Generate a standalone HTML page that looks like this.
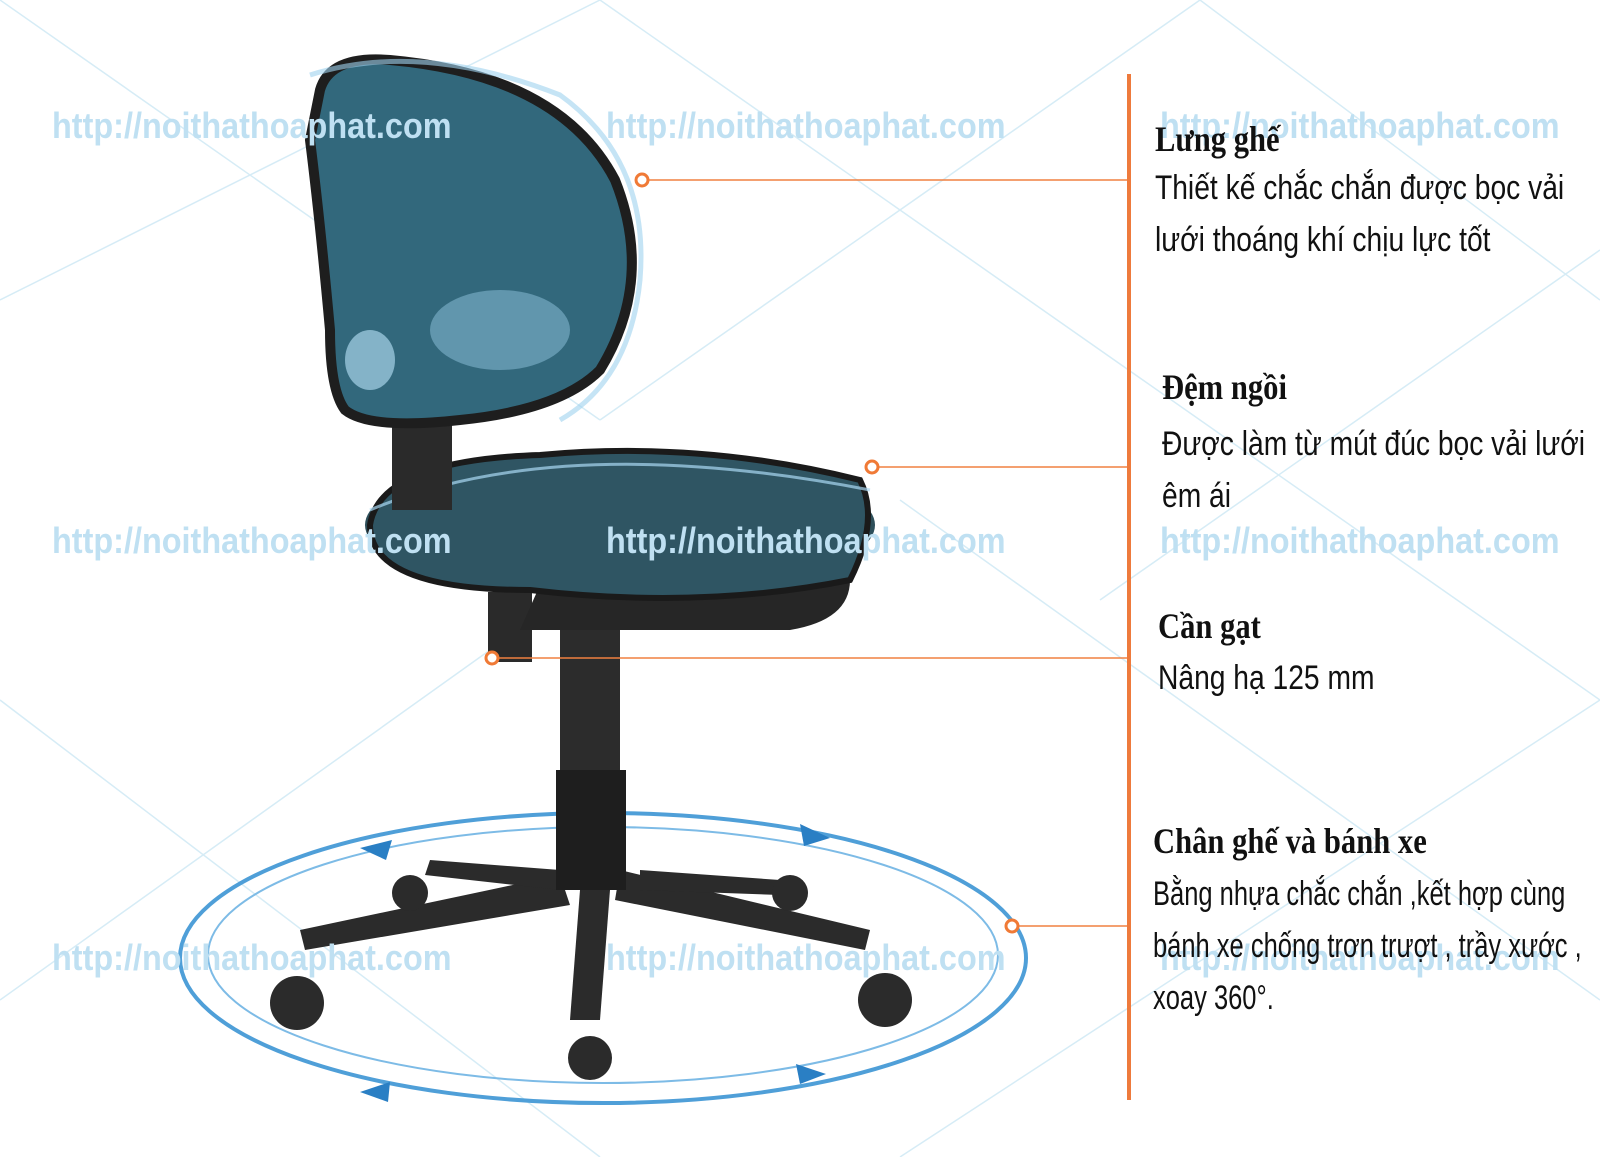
<!DOCTYPE html>
<html><head><meta charset="utf-8"><style>
html,body{margin:0;padding:0;background:#fff}
#c{position:relative;width:1600px;height:1157px;overflow:hidden;background:#fff}
.wm{position:absolute;font-family:"Liberation Sans",sans-serif;font-weight:bold;font-size:36px;color:#bfe0f2;transform:scaleX(0.9);transform-origin:left top;white-space:nowrap}
.t{position:absolute;font-family:"Liberation Serif",serif;font-weight:bold;font-size:36px;color:#111;transform:scaleX(0.85);transform-origin:left top;white-space:nowrap}
.b{position:absolute;font-family:"Liberation Sans",sans-serif;font-size:34px;color:#111;transform:scaleX(0.83);transform-origin:left top;white-space:nowrap;line-height:52px}
</style></head><body><div id="c">
<svg width="1600" height="1157" style="position:absolute;left:0;top:0">
<g stroke="#d6ecf6" stroke-width="1.5" fill="none">
<line x1="0" y1="0" x2="600" y2="420"/><line x1="0" y1="300" x2="600" y2="0"/>
<line x1="600" y1="420" x2="1200" y2="0"/><line x1="600" y1="0" x2="1600" y2="700"/>
<line x1="0" y1="700" x2="600" y2="1157"/><line x1="0" y1="1000" x2="700" y2="500"/>
<line x1="900" y1="1157" x2="1600" y2="700"/><line x1="900" y1="500" x2="1600" y2="1000"/>
<line x1="1200" y1="0" x2="1600" y2="300"/><line x1="1100" y1="600" x2="1600" y2="250"/>
</g>
<ellipse cx="603" cy="958" rx="423" ry="145" fill="none" stroke="#4f9fd8" stroke-width="4"/>
<ellipse cx="603" cy="955" rx="395" ry="128" fill="none" stroke="#7dbbe6" stroke-width="2"/>
<polygon points="360,848 392,840 386,860" fill="#2a7fc4"/>
<polygon points="800,824 830,838 804,846" fill="#2a7fc4"/>
<polygon points="360,1092 390,1082 388,1102" fill="#2a7fc4"/>
<polygon points="796,1064 826,1074 800,1084" fill="#2a7fc4"/>
<g fill="#2b2b2b">
<polygon points="560,875 300,930 305,950 570,905"/>
<polygon points="620,870 870,930 865,950 615,900"/>
<polygon points="580,890 570,1020 600,1020 610,890"/>
<polygon points="560,870 430,860 425,875 560,890"/>
<polygon points="640,870 780,880 780,895 640,890"/>
<circle cx="297" cy="1003" r="27"/><circle cx="885" cy="1000" r="27"/><circle cx="590" cy="1058" r="22"/>
<circle cx="410" cy="893" r="18"/><circle cx="790" cy="893" r="18"/>
</g>
<rect x="560" y="630" width="60" height="150" fill="#2c2c2c"/>
<rect x="556" y="770" width="70" height="120" fill="#1e1e1e"/>
<rect x="488" y="592" width="44" height="70" fill="#2a2a2a"/>
<path d="M540,585 L850,580 Q850,620 790,630 L520,630 Z" fill="#262626"/>
<ellipse cx="620" cy="525" rx="255" ry="72" fill="#2e4f5a"/>
<path d="M370,525 Q380,460 540,455 Q700,440 860,480 Q880,520 850,580 Q700,610 530,590 Q370,590 370,525Z" fill="#2f5563" stroke="#1a1a1a" stroke-width="6"/>
<path d="M370,510 Q560,430 870,490" fill="none" stroke="#a9d8f3" stroke-width="3" opacity=".7"/>
<rect x="392" y="420" width="60" height="90" fill="#2a2a2a"/>
<path d="M320,90 Q330,55 390,60 Q560,75 615,180 Q655,280 600,370 Q560,410 460,420 Q370,430 345,410 Q330,390 330,330 Q320,220 310,140 Z" fill="#32687c" stroke="#1e1e1e" stroke-width="10"/>
<path d="M310,75 Q420,40 560,95 Q650,160 640,280 Q630,380 560,420" fill="none" stroke="#9fd2ee" stroke-width="5" opacity=".6"/>
<ellipse cx="500" cy="330" rx="70" ry="40" fill="#8fc4dd" opacity=".5"/>
<ellipse cx="370" cy="360" rx="25" ry="30" fill="#a6d3e8" opacity=".7"/>
<g stroke="#f08040" stroke-width="1.5">
<line x1="646" y1="180" x2="1128" y2="180"/><line x1="876" y1="467" x2="1128" y2="467"/>
<line x1="497" y1="658" x2="1128" y2="658"/><line x1="1016" y1="926" x2="1128" y2="926"/>
</g>
<line x1="1129" y1="74" x2="1129" y2="1100" stroke="#ee7a3c" stroke-width="4"/>
<g fill="#fff" stroke="#f07a36" stroke-width="3">
<circle cx="642" cy="180" r="6"/><circle cx="872" cy="467" r="6"/><circle cx="492" cy="658" r="6"/><circle cx="1012" cy="926" r="6"/>
</g>
</svg>
<div class="wm" style="left:52px;top:105px">http://noithathoaphat.com</div>
<div class="wm" style="left:606px;top:105px">http://noithathoaphat.com</div>
<div class="wm" style="left:1160px;top:105px">http://noithathoaphat.com</div>
<div class="wm" style="left:52px;top:520px">http://noithathoaphat.com</div>
<div class="wm" style="left:606px;top:520px">http://noithathoaphat.com</div>
<div class="wm" style="left:1160px;top:520px">http://noithathoaphat.com</div>
<div class="wm" style="left:52px;top:937px">http://noithathoaphat.com</div>
<div class="wm" style="left:606px;top:937px">http://noithathoaphat.com</div>
<div class="wm" style="left:1160px;top:937px">http://noithathoaphat.com</div>

<div class="t" style="left:1155px;top:118px">Lưng ghế</div>
<div class="b" style="left:1155px;top:162px">Thiết kế chắc chắn được bọc vải<br>lưới thoáng khí chịu lực tốt</div>
<div class="t" style="left:1162px;top:366px">Đệm ngồi</div>
<div class="b" style="left:1162px;top:418px">Được làm từ mút đúc bọc vải lưới<br>êm ái</div>
<div class="t" style="left:1158px;top:605px">Cần gạt</div>
<div class="b" style="left:1158px;top:652px">Nâng hạ 125 mm</div>
<div class="t" style="left:1153px;top:820px">Chân ghế và bánh xe</div>
<div class="b" style="left:1153px;top:868px;transform:scaleX(0.75)">Bằng nhựa chắc chắn ,kết hợp cùng<br>bánh xe chống trơn trượt , trầy xước ,<br>xoay 360°.</div>
</div></body></html>
